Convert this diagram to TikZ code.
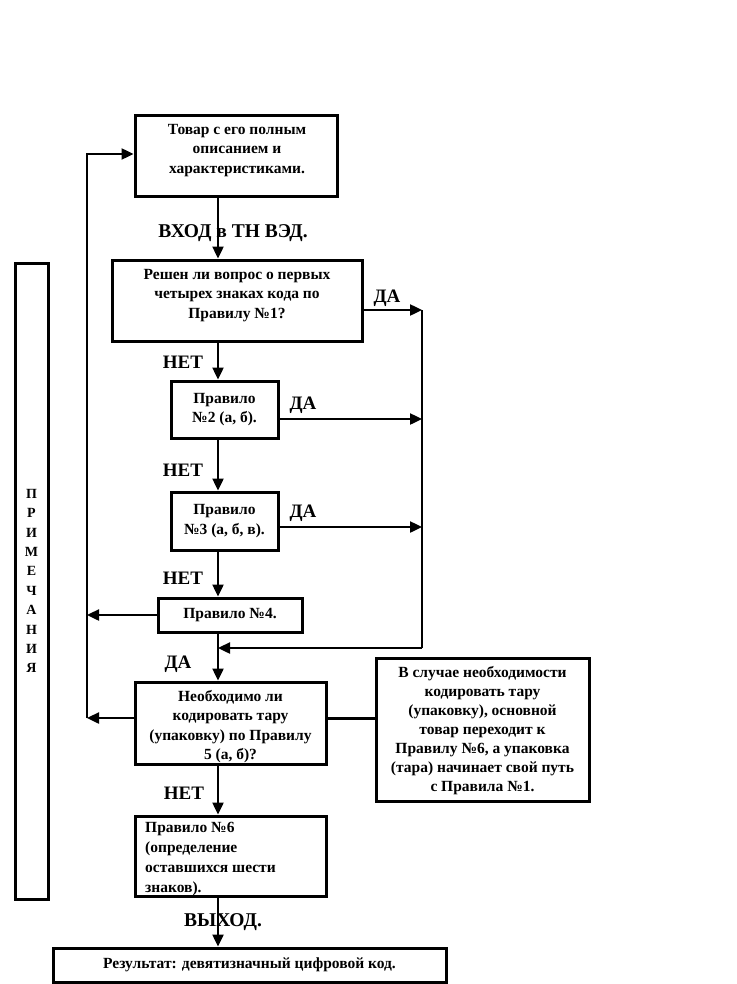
\documentclass[tikz,border=0pt]{standalone}
\usepackage{fontspec}
\setmainfont{Liberation Serif}
\usetikzlibrary{arrows.meta}
\begin{document}
\begin{tikzpicture}[x=1pt,y=-1pt,
 box/.style={draw,line width=3pt,align=center,font=\bfseries\fontsize{15.5}{19.5}\selectfont,inner sep=0pt},
 txt/.style={align=center,font=\bfseries\fontsize{15.5}{19.5}\selectfont,inner sep=0pt},
 conn/.style={line width=2.4pt},
 thick3/.style={line width=3pt},
 arr/.style={line width=2.4pt,-{Triangle[length=12pt,width=11pt]}},
 lbl/.style={font=\bfseries\fontsize{19}{21}\selectfont,inner sep=0pt},
 big/.style={font=\bfseries\fontsize{19.5}{22}\selectfont,inner sep=0pt}]
\useasboundingbox (0,0) rectangle (736,984);
\coordinate (sx) at (218,0);
\coordinate (bx) at (422,0);
\coordinate (L1) at (87,154);
\coordinate (L2) at (87,718);

% boxes
\node[box,minimum width=202pt,minimum height=81pt] (b1) at (236,156.5) {};
\node[txt] (t1) at (237,150.5) {Товар с его полным\\описанием и\\характеристиками.};
\node[box,minimum width=250pt,minimum height=81pt] (b2) at (237,300.5) {};
\node[txt] (t2) at (237,295.5) {Решен ли вопрос о первых\\четырех знаках кода по\\Правилу №1?};
\node[box,minimum width=107pt,minimum height=57pt] (b3) at (224.5,409.5) {Правило\\№2 (а, б).};
\node[box,minimum width=107pt,minimum height=58pt] (b4) at (224.5,521) {Правило\\№3 (а, б, в).};
\node[box,minimum width=144pt,minimum height=34pt] (b5) at (230,615) {Правило №4.};
\node[box,minimum width=191pt,minimum height=82pt] (b6) at (230.5,723) {};
\node[txt] (t6) at (230.5,726.5) {Необходимо ли\\кодировать тару\\(упаковку) по Правилу\\5 (а, б)?};
\node[box,minimum width=213pt,minimum height=143pt] (br) at (482.5,729.5) {};
\node[txt,font=\bfseries\fontsize{15.5}{19}\selectfont] (tr) at (482.5,731) {В случае необходимости\\кодировать тару\\(упаковку), основной\\товар переходит к\\Правилу №6, а упаковка\\(тара) начинает свой путь\\с Правила №1.};
\node[box,minimum width=191pt,minimum height=80pt] (b7) at (230.5,856) {};
\node[txt,align=left,anchor=west,font=\bfseries\fontsize{15.5}{20}\selectfont] (t7) at (145,859) {Правило №6\\(определение\\оставшихся шести\\знаков).};
\node[box,minimum width=393pt,minimum height=34pt] (b8) at (249.5,965) {Результат: девятизначный цифровой код.};
\node[box,minimum width=33pt,minimum height=636pt,font=\bfseries\fontsize{14}{19.4}\selectfont] (note) at (31.5,581) {П\\Р\\И\\М\\Е\\Ч\\А\\Н\\И\\Я};

% main spine
\draw[arr] (b1.south -| sx) -- (b2.north -| sx);
\draw[arr] (b2.south -| sx) -- (b3.north -| sx);
\draw[arr] (b3.south -| sx) -- (b4.north -| sx);
\draw[arr] (b4.south -| sx) -- (b5.north -| sx);
\draw[arr] (b5.south -| sx) -- (b6.north -| sx);
\draw[arr] (b6.south -| sx) -- (b7.north -| sx);
\draw[arr] (b7.south -| sx) -- (b8.north -| sx);

% right bus
\coordinate (r1) at ([yshift=-9.5pt]b2.east);
\coordinate (r2) at ([yshift=-9.5pt]b3.east);
\coordinate (r3) at ([yshift=-6pt]b4.east);
\coordinate (r4) at (422,648);
\draw[arr] (r1) -- (r1 -| bx);
\draw[arr] (r2) -- (r2 -| bx);
\draw[arr] (r3) -- (r3 -| bx);
\draw[conn] (r1 -| bx) -- (r4);
\draw[arr] (r4) -- (r4 -| sx);

% left bus
\coordinate (w6) at ([yshift=5pt]b6.west);
\draw[arr] (b5.west) -- (b5.west -| L1);
\draw[arr] (w6) -- (L2);
\draw[arr] (L2) -- (L1) -- (L1 -| b1.west);

% link to note box
\draw[thick3] (w6 -| b6.east) -- (w6 -| br.west);

% labels
\node[big] (in) at (233,233) {ВХОД в ТН ВЭД.};
\node[lbl] (y1) at (387,298) {ДА};
\node[lbl] (n1) at (183,362) {НЕТ};
\node[lbl] (y2) at (303,405) {ДА};
\node[lbl] (n2) at (183,470) {НЕТ};
\node[lbl] (y3) at (303,513) {ДА};
\node[lbl] (n3) at (183,578) {НЕТ};
\node[lbl] (y4) at (178,664) {ДА};
\node[lbl] (n4) at (184,793) {НЕТ};
\node[big] (out) at (223,922) {ВЫХОД.};
\end{tikzpicture}
\end{document}
